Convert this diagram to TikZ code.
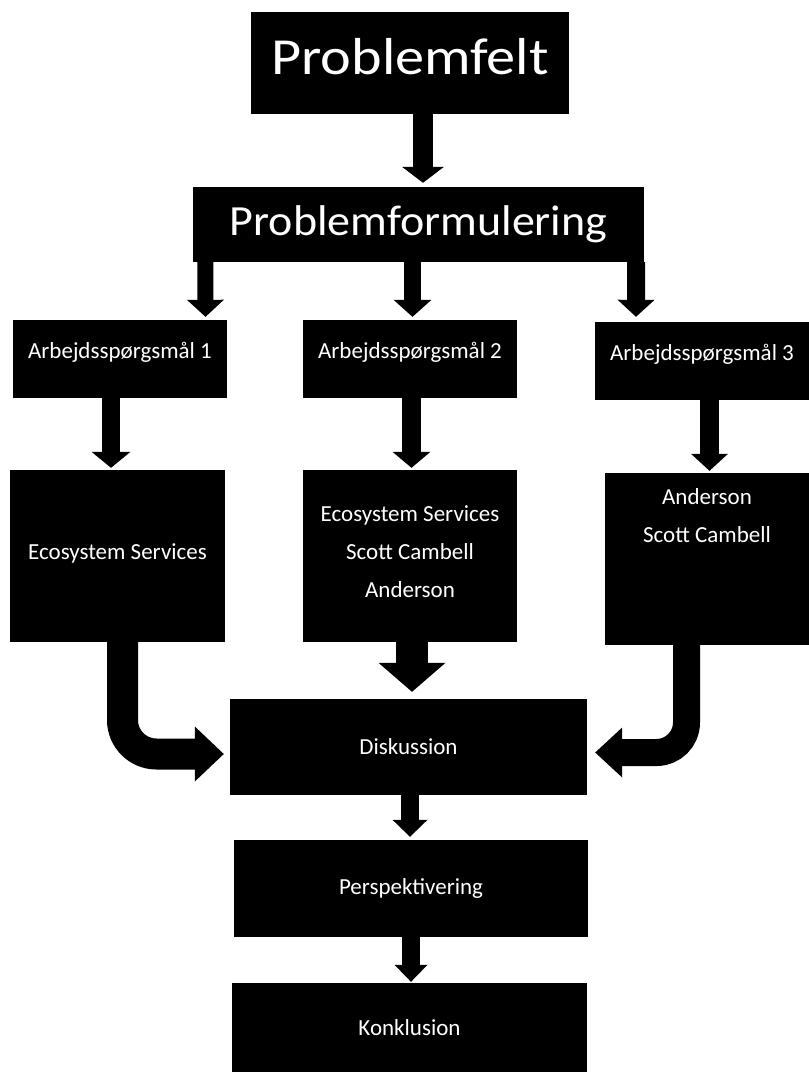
\documentclass[tikz,border=0pt]{standalone}
\usepackage{graphicx}
\usepackage{fontspec}
\setmainfont{Carlito}
\usetikzlibrary{arrows.meta,calc}
\tikzset{
  box/.style={fill=black, draw=none, text=white, inner sep=0pt, align=center,
    font=\fontsize{23}{38}\selectfont},
  arr/.style n args={3}{draw=black, line width=#1,
    arrows={-{Triangle[length=#2,width=#3,line width=0pt]}}},
}
\begin{document}
\begin{tikzpicture}[x=1pt,y=-1pt]
\useasboundingbox[fill=white] (0,0) rectangle (809,1072);
% boxes
\node[box, minimum width=318pt, minimum height=102pt, text depth=14pt] (pf) at (410,63)
  {\fontsize{52}{60}\selectfont\scalebox{1.12}[1]{Problemfelt}};
\node[box, minimum width=451pt, minimum height=75pt] (pfm) at (418.5,224.5)
  {\fontsize{43}{50}\selectfont\scalebox{1.07}[1]{Problemformulering}};
\node[box, minimum width=214pt, minimum height=78pt, text depth=17pt] (a1) at (120,359) {Arbejdsspørgsmål 1};
\node[box, minimum width=214pt, minimum height=78pt, text depth=17pt] (a2) at (410,359) {Arbejdsspørgsmål 2};
\node[box, minimum width=214pt, minimum height=78pt, text depth=17pt] (a3) at (702,361) {Arbejdsspørgsmål 3};
\node[box, minimum width=215pt, minimum height=172pt, text depth=9pt] (r1) at (117.5,556) {Ecosystem Services};
\node[box, minimum width=214pt, minimum height=172pt, text depth=8pt] (r2) at (410,556) {Ecosystem Services\\Scott Cambell\\Anderson};
\node[box, minimum width=204pt, minimum height=172pt] (r3) at (707,559) {};
\node[box, anchor=center] (r3t) at (707,516) {Anderson\\Scott Cambell};
\node[box, minimum width=357pt, minimum height=96pt] (disk) at (408.5,747) {Diskussion};
\node[box, minimum width=354pt, minimum height=97pt] (persp) at (411,888.5) {Perspektivering};
\node[box, minimum width=355pt, minimum height=89pt] (konk) at (409.5,1027.5) {Konklusion};
% connectors
\draw[arr={20pt}{16pt}{42pt}] ($(pf.south)+(13,0)$) -- ($(pfm.north)+(4.5,-4)$);
\draw[arr={16pt}{17pt}{37pt}] ($(pfm.south west)+(12.5,0)$) -- ($(a1.north)+(85.5,-3)$);
\draw[arr={17pt}{17pt}{38pt}] ($(pfm.south)+(-6,0)$) -- ($(a2.north)+(2.5,-3)$);
\draw[arr={18pt}{17pt}{37pt}] ($(pfm.south east)+(-8,0)$) -- ($(a3.north)+(-66,-5)$);
\draw[arr={18pt}{16pt}{39pt}] ($(a1.south)+(-9,0)$) -- ($(r1.north)+(-6.5,-2)$);
\draw[arr={19pt}{16pt}{38pt}] ($(a2.south)+(1.5,0)$) -- ($(r2.north)+(1.5,-2)$);
\draw[arr={19pt}{17pt}{37pt}] ($(a3.south)+(7.5,0)$) -- ($(r3.north)+(2.5,-2)$);
\draw[arr={32pt}{29pt}{67pt}] ($(r2.south)+(2,0)$) -- ($(disk.north)+(3.5,-7)$);
\draw[arr={31pt}{29pt}{55pt}, rounded corners=34pt] ($(r1.south)+(5,0)$) |- ($(disk.west)+(-6,7)$);
\draw[arr={27pt}{27pt}{50pt}, rounded corners=30pt] ($(r3.south)+(-20.5,0)$) |- ($(disk.east)+(8,5.5)$);
\draw[arr={18pt}{17pt}{35pt}] ($(disk.south)+(1.5,0)$) -- ($(persp.north)+(-1,-3)$);
\draw[arr={18pt}{17pt}{33pt}] (persp.south) -- ($(konk.north)+(1.5,-1)$);
\end{tikzpicture}
\end{document}
